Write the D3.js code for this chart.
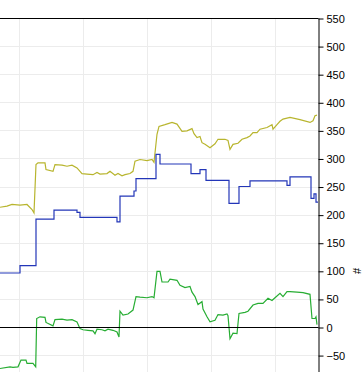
<!DOCTYPE html>
<html>
<head>
<meta charset="utf-8">
<script src="https://cdn.jsdelivr.net/npm/d3@7"></script>
<style>
  body { margin: 0; background: #fff; }
  svg { display: block; }
  .tick text { font-family: "Liberation Sans", Arial, sans-serif; font-size: 11px; fill: #000; }
</style>
</head>
<body>
<div id="chart"></div>
<script>
// 1: DATA (x = sample index, y = value)
const olive = [
  [0, 214], [7, 216], [12, 219], [20, 218], [27, 219], [32, 210], [34, 204], [36, 290], [38, 293], [45, 293],
  [46, 281], [53, 278], [55, 290], [62, 289], [67, 287], [72, 289], [77, 284], [80, 278], [82, 274], [87, 273],
  [93, 272], [97, 276], [100, 273], [107, 274], [110, 278], [115, 271], [118, 274], [122, 270], [125, 272], [130, 274],
  [133, 278], [135, 296], [140, 299], [147, 297], [152, 299], [154, 294], [157, 344], [159, 358], [165, 361], [172, 365],
  [177, 362], [182, 349], [187, 350], [192, 354], [194, 345], [197, 338], [200, 340], [202, 329], [205, 326], [210, 320],
  [215, 327], [218, 335], [225, 335], [228, 333], [230, 317], [233, 326], [238, 328], [242, 335], [247, 338], [250, 341],
  [253, 347], [257, 347], [260, 353], [267, 356], [272, 361], [273, 353], [277, 361], [280, 367], [283, 371], [290, 374],
  [300, 370], [310, 365], [313, 368], [315, 377], [317, 378]
];

const blue = [
  [0, 97], [20, 110], [36, 193], [54, 209], [77, 205], [80, 196], [117, 188], [120, 234], [134, 243], [136, 265],
  [156, 308], [160, 291], [191, 274], [200, 281], [206, 262], [229, 221], [239, 251], [250, 261], [287, 253], [290, 268],
  [311, 230], [314, 238], [316, 223], [318, 223]
];

const green = [
  [0, -73], [10, -70], [13, -71], [18, -70], [21, -58], [26, -58], [27, -64], [33, -64], [35.7, -70], [36.7, 16],
  [40, 19], [45, 18], [46, 9], [53, 3], [55, 14], [62, 15], [67, 13], [72, 14], [77, 10], [80, -2],
  [83, -4], [88, -5], [93, -6], [95, -11], [97, -3], [102, -4], [105, -6], [108, -3], [113, -5], [117, -8],
  [119, -17], [120, 29], [123, 22], [128, 24], [133, 31], [136, 55], [140, 54], [147, 53], [152, 55], [154, 53],
  [157, 100], [160, 100], [162, 81], [168, 81], [170, 86], [177, 84], [180, 75], [185, 71], [190, 73], [192, 63],
  [195, 55], [198, 41], [202, 46], [203, 33], [207, 19], [210, 10], [215, 13], [218, 23], [223, 22], [227, 24],
  [228, 21], [230, -20], [233, -10], [237, -11], [239, 25], [245, 27], [248, 29], [253, 40], [258, 43], [263, 43],
  [268, 52], [272, 48], [275, 53], [280, 61], [283, 55], [287, 64], [290, 64], [297, 63], [303, 62], [310, 59],
  [312, 16], [315, 16], [316, 19], [317, 5]
];

const yTicks = [-50, 0, 50, 100, 150, 200, 250, 300, 350, 400, 450, 500, 550];
const xGrid = [19.5, 83.5, 147.5, 211.5, 275.5];
const yLabel = "#";

// 2: SETUP
const W = 364, H = 372;
const plot = { left: 0, right: 318.5, top: 18.5, bottom: 400 };

const svg = d3.select("#chart").append("svg")
  .attr("width", W)
  .attr("height", H);

const x = d3.scaleLinear().domain([0, 318]).range([plot.left, plot.left + 318]);
const y = d3.scaleLinear().domain([0, 550]).range([327.5, plot.top]);

// 3: GRID
svg.append("g").selectAll("line")
  .data(xGrid)
  .join("line")
  .attr("x1", d => Math.floor(x(d)) + 0.5)
  .attr("x2", d => Math.floor(x(d)) + 0.5)
  .attr("y1", plot.top)
  .attr("y2", plot.bottom)
  .attr("stroke", "#ececec");

svg.append("g").selectAll("line")
  .data(yTicks.filter(d => d !== 0 && d !== 550))
  .join("line")
  .attr("x1", plot.left)
  .attr("x2", plot.right)
  .attr("y1", d => Math.round(y(d) - 0.5) + 0.5)
  .attr("y2", d => Math.round(y(d) - 0.5) + 0.5)
  .attr("stroke", "#ececec");

// 4: LINES
const line = d3.line().x(d => x(d[0])).y(d => y(d[1]));
const stepLine = d3.line().x(d => x(d[0])).y(d => y(d[1])).curve(d3.curveStepAfter);

svg.append("path").datum(olive)
  .attr("d", line)
  .attr("fill", "none")
  .attr("stroke", "#b8b52e")
  .attr("stroke-width", 1.2);

svg.append("path").datum(blue)
  .attr("d", stepLine)
  .attr("fill", "none")
  .attr("stroke", "#2336b8")
  .attr("stroke-width", 1.2);

svg.append("path").datum(green)
  .attr("d", line)
  .attr("fill", "none")
  .attr("stroke", "#27ad33")
  .attr("stroke-width", 1.2);

// zero line and top border
svg.append("line")
  .attr("x1", plot.left).attr("x2", plot.right)
  .attr("y1", y(0)).attr("y2", y(0))
  .attr("stroke", "#000");

svg.append("line")
  .attr("x1", plot.left).attr("x2", plot.right)
  .attr("y1", plot.top).attr("y2", plot.top)
  .attr("stroke", "#000");

// 5: AXIS (right side)
const axis = svg.append("g")
  .attr("transform", `translate(${plot.right},0)`)
  .call(d3.axisRight(y)
    .tickValues(yTicks)
    .tickSize(5)
    .tickPadding(3)
    .tickFormat(d3.format("d")));
axis.select(".domain").attr("d", `M0.5,${plot.top}V${plot.bottom}`).attr("stroke", "#000");

// axis label
svg.append("text")
  .attr("transform", `translate(358,271) rotate(-90)`)
  .attr("text-anchor", "middle")
  .attr("dominant-baseline", "middle")
  .style("font-family", "Liberation Sans, Arial, sans-serif")
  .style("font-size", "11px")
  .text(yLabel);
</script>
</body>
</html>
